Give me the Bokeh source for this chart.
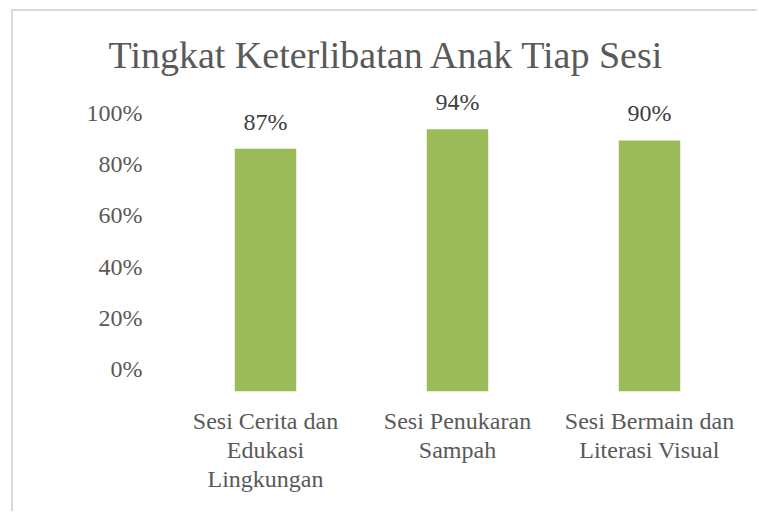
from bokeh.plotting import figure
from bokeh.models import (Range1d, LinearAxis, FixedTicker, NumeralTickFormatter,
                          ColumnDataSource, FactorRange)
from bokeh.embed import file_html
from bokeh.resources import INLINE
from bokeh.core.properties import value

categories = ["Sesi Cerita dan\nEdukasi\nLingkungan", "Sesi Penukaran\nSampah", "Sesi Bermain dan\nLiterasi Visual"]
values = [0.87, 0.94, 0.90]
labels = ["87%", "94%", "90%"]
tick_values = [0.0, 0.2, 0.4, 0.6, 0.8, 1.0]

FONT = "Liberation Serif"
GREY = "#595959"

# style constants (reference draws the tick labels slightly compressed vs bars)
main_end = 1.079
tick_shift = 0.079
tick_scale = 0.921

src = ColumnDataSource(dict(cat=categories, val=values, lab=labels))

p = figure(width=746, height=502, x_range=FactorRange(*categories),
           y_range=Range1d(0, main_end), y_axis_location=None,
           output_backend="svg", toolbar_location=None,
           min_border_left=156, min_border_right=14, min_border_top=79, min_border_bottom=122,
           margin=(9, 0, 0, 11),
           styles={"border-top": "2px solid #d9d9d9", "border-left": "2px solid #d9d9d9"})

p.outline_line_color = None
p.xgrid.grid_line_color = None
p.ygrid.grid_line_color = None
p.background_fill_color = "white"
p.border_fill_color = "white"

p.extra_y_ranges = {"ticks": Range1d((0 - tick_shift) / tick_scale, (main_end - tick_shift) / tick_scale)}
yax = LinearAxis(y_range_name="ticks", ticker=FixedTicker(ticks=tick_values),
                 formatter=NumeralTickFormatter(format="0%"))
yax.axis_line_color = None
yax.major_tick_line_color = None
yax.minor_tick_line_color = None
yax.major_label_text_font = FONT
yax.major_label_text_font_size = "24px"
yax.major_label_text_color = GREY
yax.major_label_standoff = 21
p.add_layout(yax, "left")

xax = p.xaxis[0]
xax.axis_line_color = None
xax.major_tick_line_color = None
xax.major_tick_out = 0
xax.major_label_standoff = 16
xax.major_label_text_font = FONT
xax.major_label_text_font_size = "24px"
xax.major_label_text_color = GREY
xax.major_label_text_line_height = 1.12

p.vbar(x="cat", top="val", width=0.32, source=src, color="#9BBB59", line_color=None)
p.text(x="cat", y="val", text="lab", source=src, text_align="center", text_baseline="alphabetic",
       y_offset=-27, text_font=value(FONT), text_font_size="24px", text_color="#404040")

p.title.text = "Tingkat Keterlibatan Anak Tiap Sesi"
p.title.text_font = FONT
p.title.text_font_size = "38px"
p.title.text_font_style = "normal"
p.title.text_color = GREY
p.title.align = "left"
p.title.offset = -61
p.title.standoff = 30

open("out.html", "w").write(file_html(p, INLINE))
